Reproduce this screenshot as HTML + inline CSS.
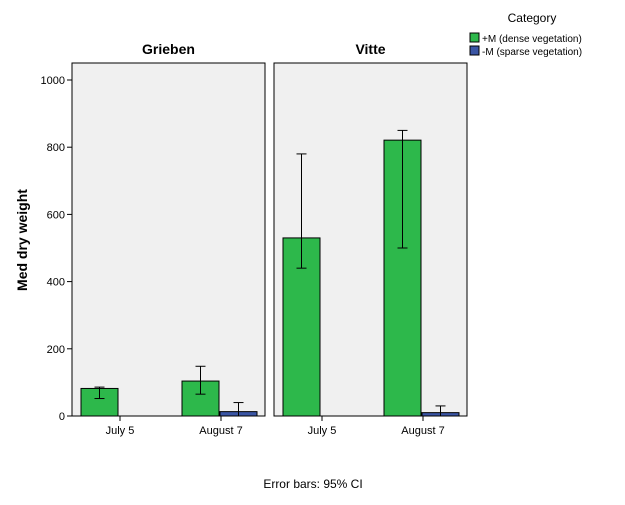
<!DOCTYPE html>
<html><head><meta charset="utf-8"><style>
body{margin:0;background:#fff;font-family:"Liberation Sans",sans-serif;}
</style></head><body>
<svg id="c" width="625" height="500" xmlns="http://www.w3.org/2000/svg" font-family="Liberation Sans, sans-serif">
</svg>
<script>
const panels=["Grieben","Vitte"];
const xCats=["July 5","August 7"];
const dense=[[82,104],[530,821]];
const denseLo=[[52,65],[440,500]];
const denseHi=[[86,148],[780,850]];
const sparse=[[null,13],[null,10]];
const sparseLo=[[null,0],[null,0]];
const sparseHi=[[null,40],[null,30]];
const yTicks=[0,200,400,600,800,1000];

const svg=document.getElementById('c');
const NS="http://www.w3.org/2000/svg";
function mk(t,a,txt){const e=document.createElementNS(NS,t);for(const k in a)e.setAttribute(k,a[k]);if(txt!==undefined)e.textContent=txt;svg.appendChild(e);return e;}
const y=v=>416-v*0.336;
const px=[72,274],pw=193;
panels.forEach((p,i)=>{
 const r=mk('rect',{x:px[i],y:63,width:pw,height:353,fill:'#f0f0f0',stroke:'#000'});
 
 
 const t=mk('text',{x:px[i]+pw/2,y:54,'text-anchor':'middle','font-size':14,'font-weight':'bold'},p);
 
 
 xCats.forEach((c,j)=>{
  const cx=px[i]+48+j*101;
  const lab=mk('text',{x:cx,y:434,'text-anchor':'middle','font-size':11},c);
  
  
  mk('line',{x1:cx,x2:cx,y1:416,y2:421,stroke:'#000'});
  const series=[[dense,denseLo,denseHi,'#2db84b',cx-39,'dense'],[sparse,sparseLo,sparseHi,'#3a55a4',cx-1,'sparse']];
  series.forEach(([v,lo,hi,col,x0,nm])=>{
   const val=v[i][j]; if(val===null)return;
   const b=mk('rect',{x:x0,y:y(val),width:37,height:416-y(val),fill:col,stroke:'#000'});
   
   
   const ex=x0+18.5;
   mk('line',{x1:ex,x2:ex,y1:y(lo[i][j]),y2:y(hi[i][j]),stroke:'#000'});
   mk('line',{x1:ex-5,x2:ex+5,y1:y(lo[i][j]),y2:y(lo[i][j]),stroke:'#000'});
   mk('line',{x1:ex-5,x2:ex+5,y1:y(hi[i][j]),y2:y(hi[i][j]),stroke:'#000'});
  });
 });
});
yTicks.forEach(v=>{
 mk('line',{x1:67,x2:72,y1:y(v),y2:y(v),stroke:'#000'});
 const t=mk('text',{x:65,y:y(v)+4,'text-anchor':'end','font-size':11},v);
 
 
});
const yt=mk('text',{x:0,y:0,transform:'translate(27,240) rotate(-90)','text-anchor':'middle','font-size':14,'font-weight':'bold'},'Med dry weight');


const foot=mk('text',{x:313,y:488,'text-anchor':'middle','font-size':12},'Error bars: 95% CI');


const lt=mk('text',{x:532,y:22,'text-anchor':'middle','font-size':12},'Category');


[['#2db84b','+M (dense vegetation)'],['#3a55a4','-M (sparse vegetation)']].forEach((l,k)=>{
 const s=mk('rect',{x:470,y:33+k*13,width:9,height:9,fill:l[0],stroke:'#000'});
 
 
 const t=mk('text',{x:482,y:42+k*13,'font-size':10},l[1]);
 
 
});
</script>
</body></html>
